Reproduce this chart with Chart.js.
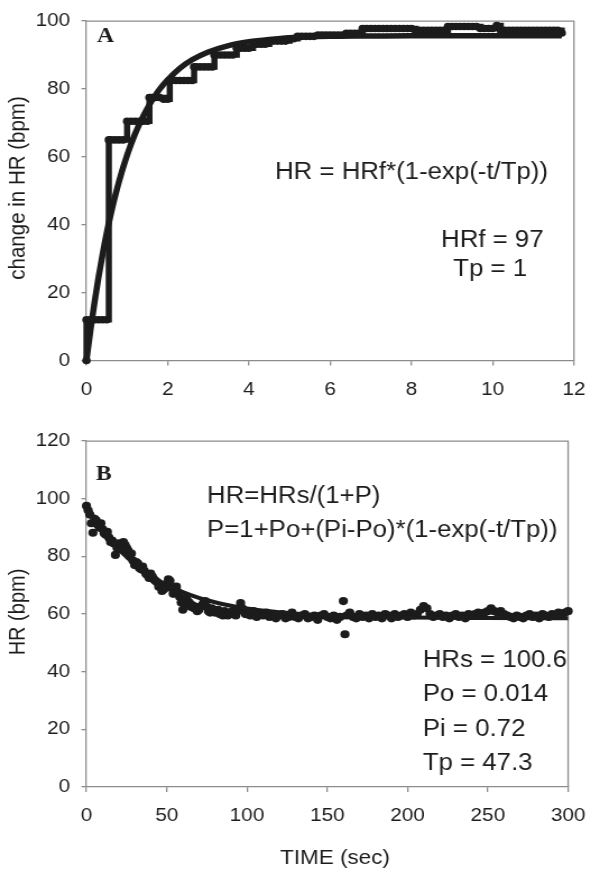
<!DOCTYPE html>
<html><head><meta charset="utf-8">
<script src="https://cdn.jsdelivr.net/npm/chart.js@4.4.1/dist/chart.umd.min.js"></script>
<style>
html,body{margin:0;padding:0;background:#fff;width:600px;height:878px;overflow:hidden}
canvas{position:absolute;left:0;display:block}
</style></head><body>
<canvas id="ca" width="535" height="420" style="top:0;width:600px;height:420px"></canvas>
<canvas id="cb" width="535" height="458" style="top:420px;width:600px;height:458px"></canvas>
<script>
// ---------- Panel A data ----------
const A_TIME = [
  0, 0, 0.1, 0.2, 0.3, 0.4, 0.5, 0.55, 0.6, 0.7,
  0.8, 0.9, 1.0, 1.1, 1.2, 1.3, 1.4, 1.5, 1.55, 1.6,
  1.7, 1.8, 1.9, 2.0, 2.05, 2.1, 2.2, 2.3, 2.4, 2.5,
  2.6, 2.65, 2.7, 2.8, 2.9, 3.0, 3.1, 3.15, 3.2, 3.3,
  3.4, 3.5, 3.6, 3.7, 3.8, 3.9, 4.0, 4.1, 4.2, 4.3,
  4.4, 4.5, 4.6, 4.7, 4.8, 4.9, 5.0, 5.1, 5.2, 5.3,
  5.4, 5.5, 5.6, 5.7, 5.8, 5.9, 6.0, 6.1, 6.2, 6.3,
  6.4, 6.5, 6.6, 6.7, 6.8, 6.9, 7.0, 7.1, 7.2, 7.3,
  7.4, 7.5, 7.6, 7.7, 7.8, 7.9, 8.0, 8.1, 8.2, 8.3,
  8.4, 8.5, 8.6, 8.7, 8.8, 8.9, 9.0, 9.1, 9.2, 9.3,
  9.4, 9.5, 9.6, 9.7, 9.8, 9.9, 10.0, 10.1, 10.2, 10.3,
  10.4, 10.5, 10.6, 10.7, 10.8, 10.9, 11.0, 11.1, 11.2, 11.3,
  11.4, 11.5, 11.6, 11.7
];
const A_HR = [
  0, 12, 12, 12, 12, 12, 12, 65, 65, 65,
  65, 65, 70.5, 70.5, 70.5, 70.5, 70.5, 70.5, 77.5, 77.5,
  77.5, 77.5, 77, 77, 82.5, 82.5, 82.5, 82.5, 82.5, 82.5,
  82.5, 86.5, 86.5, 86.5, 86.5, 86.5, 86.5, 90, 90, 90,
  90, 90, 90, 92, 92, 92, 92, 93.2, 93.2, 93.2,
  93.2, 94.1, 94.1, 94.1, 94.1, 94.1, 94.8, 94.8, 95.5, 95.5,
  95.5, 95.5, 95.5, 95.9, 95.9, 95.9, 95.9, 95.9, 95.9, 95.9,
  96.4, 96.4, 96.4, 96.4, 97.8, 97.8, 97.8, 97.8, 97.8, 97.8,
  97.8, 97.8, 97.8, 97.8, 97.8, 97.8, 97.8, 97.3, 97.3, 97.3,
  97.3, 97.3, 97.3, 97.3, 97.3, 98.4, 98.4, 98.4, 98.4, 98.4,
  98.4, 98.4, 98.4, 97.8, 97.8, 97.8, 97.8, 98.7, 97.3, 97.3,
  97.3, 97.3, 97.3, 97.3, 97.3, 97.3, 97.3, 97.3, 97.3, 97.3,
  97.3, 97.3, 97.3, 96.5
];
const A_FIT_TIME = [0, 0.1, 0.2, 0.3, 0.4, 0.5, 0.6, 0.8, 1.0, 1.2, 1.4, 1.6, 1.8, 2.0, 2.3, 2.6, 3.0, 3.5, 4.0, 4.5, 5.0, 6.0, 7.0, 8.0, 10.0, 11.7];
const A_FIT_HR   = [0, 9.1, 17.3, 24.8, 31.5, 37.7, 43.2, 52.7, 60.5, 66.9, 72.1, 76.4, 79.9, 82.7, 86.1, 88.6, 90.9, 92.8, 93.9, 94.6, 95.1, 95.5, 95.6, 95.7, 95.7, 95.7];
const A_X_TICKS = [0, 2, 4, 6, 8, 10, 12];
const A_Y_TICKS = [0, 20, 40, 60, 80, 100];

// ---------- Panel B data ----------
const B_TIME = [
  0, 1, 2, 3, 4, 5, 6, 7, 8, 9,
  10, 11, 12, 13, 14, 15, 16, 17, 18, 19,
  20, 21, 22, 23, 24, 25, 26, 27, 28, 29,
  30, 31, 32, 33, 34, 35, 36, 37, 38, 39,
  40, 41, 42, 43, 44, 45, 46, 47, 48, 49,
  50, 51, 52, 53, 54, 55, 56, 57, 58, 59,
  60, 61, 62, 63, 64, 65, 66, 67, 68, 69,
  70, 71, 72, 73, 74, 75, 76, 77, 78, 79,
  80, 81, 82, 83, 84, 85, 86, 87, 88, 89,
  90, 91, 92, 93, 94, 95, 96, 97, 98, 99,
  100, 102, 104, 106, 108, 110, 112, 114, 116, 118,
  120, 122, 124, 126, 128, 130, 132, 134, 136, 138,
  140, 142, 144, 146, 148, 150, 152, 154, 156, 158,
  160, 161, 162, 164, 166, 168, 170, 172, 174, 176, 178,
  180, 182, 184, 186, 188, 190, 192, 194, 196, 198,
  200, 202, 204, 206, 208, 210, 212, 214, 216, 218,
  220, 222, 224, 226, 228, 230, 232, 234, 236, 238,
  240, 242, 244, 246, 248, 250, 252, 254, 256, 258,
  260, 262, 264, 266, 268, 270, 272, 274, 276, 278,
  280, 282, 284, 286, 288, 290, 292, 294, 296, 298,
  300
];
const B_HR = [
  97.5, 96, 94.5, 91.5, 88.2, 93, 92.5, 91, 90, 91.5,
  89.5, 88, 87.5, 88.5, 86.5, 85, 85.5, 84.5, 80.5, 83,
  84.5, 82.5, 83.5, 85, 84, 83, 82, 80, 81, 78.5,
  77, 78, 77.5, 76, 75.5, 76.5, 75, 74, 73.5, 72.5,
  74, 73, 72, 71.5, 71, 69.5, 70, 68, 68.5, 69,
  70.5, 72, 71.5, 69, 67, 68, 69.5, 67.5, 66, 64,
  61.5, 63.5, 65.5, 64.5, 64, 62.5, 63, 62, 62.5, 61,
  61.5, 62.5, 63, 64, 64.5, 62.5, 61, 60.5, 62, 61.5,
  60.5, 61, 61.5, 60, 60, 59.5, 61, 60.5, 59.5, 60,
  60.5, 61, 60, 59.5, 61, 62, 63.8, 62, 61, 60,
  60, 59.5, 61, 59, 60, 59.5, 60.5, 59, 60, 58.5,
  59.5, 60, 58.5, 59, 60.5, 59, 58.5, 59.5, 60, 58.5,
  59, 59.5, 58, 59.5, 60, 59, 58.5, 59.5, 58, 59,
  64.5, 53, 59.5, 60.5, 59, 58.5, 60, 59, 59.5, 58.5, 60,
  59, 59.5, 58.5, 60, 59.5, 58.5, 60, 59, 59.5, 60,
  59, 60.5, 59.5, 60, 61.5, 62.8, 62, 60, 59, 59.5,
  60, 59, 59.5, 58.5, 59.5, 60, 59, 59.5, 58.5, 60,
  59.5, 60, 60.5, 59.5, 60.5, 61, 62, 61, 60.5, 61,
  60, 59.5, 59, 58.5, 59.5, 59, 58.5, 59.5, 60, 59,
  59.5, 58.5, 60, 59.5, 59, 60, 59.5, 60.5, 59.5, 60.5,
  61
];
const B_FIT_TIME = [0, 5, 10, 15, 20, 25, 30, 40, 50, 60, 70, 80, 90, 100, 120, 140, 160, 180, 200, 250, 300];
const B_FIT_HR   = [97.8, 93.3, 89.3, 85.8, 82.6, 79.8, 77.4, 73.3, 70.1, 67.6, 65.6, 64.1, 62.9, 61.9, 60.6, 59.8, 59.3, 59.0, 58.8, 58.6, 58.5];
const B_X_TICKS = [0, 50, 100, 150, 200, 250, 300];
const B_Y_TICKS = [0, 20, 40, 60, 80, 100, 120];

// ---------- styling ----------
const INK = '#1c1c1c';
const AXIS = '#8c8c8c';
const SANS = "'Liberation Sans', Arial, sans-serif";
const SERIF = "'Liberation Serif', 'Times New Roman', serif";

function pts(xs, ys) { return xs.map((x, i) => ({ x: x, y: ys[i] })); }

function axisScale(ticks, fixedSize, isX) {
  return {
    type: 'linear',
    min: ticks[0],
    max: ticks[ticks.length - 1],
    afterBuildTicks: s => { s.ticks = ticks.map(v => ({ value: v })); },
    afterFit: s => { if (isX) s.height = fixedSize; else s.width = fixedSize; },
    grid: { drawOnChartArea: false, drawTicks: true, tickLength: isX ? 5 : 4.5, color: AXIS, lineWidth: 1.3 },
    border: { display: true, color: AXIS, width: 1.3 },
    ticks: { color: INK, font: { family: SANS, size: 18.5 }, padding: isX ? 13 : 10, maxRotation: 0, autoSkip: false },
    title: { display: false }
  };
}

function decorPlugin(texts) {
  return {
    id: 'decor',
    beforeDatasetsDraw(chart) {
      const { ctx, chartArea: a } = chart;
      ctx.save();
      ctx.strokeStyle = AXIS; ctx.lineWidth = 1.3;
      ctx.beginPath();
      ctx.moveTo(a.left, a.top); ctx.lineTo(a.right, a.top); ctx.lineTo(a.right, a.bottom);
      ctx.stroke();
      ctx.restore();
    },
    afterDraw(chart) {
      const ctx = chart.ctx;
      texts.forEach(t => {
        ctx.save();
        ctx.fillStyle = INK;
        ctx.font = t.font;
        ctx.textAlign = t.align || 'left';
        ctx.textBaseline = 'middle';
        if (t.rot) {
          ctx.translate(t.x, t.y);
          ctx.rotate(-Math.PI / 2);
          ctx.fillText(t.text, 0, 0);
        } else {
          ctx.fillText(t.text, t.x, t.y);
        }
        ctx.restore();
      });
    }
  };
}

const commonOpts = (xTicks, yTicks, pad, xH) => ({
  responsive: false,
  devicePixelRatio: 1,
  animation: false,
  events: [],
  layout: { padding: pad },
  plugins: { legend: { display: false }, tooltip: { enabled: false } },
  scales: {
    x: axisScale(xTicks, xH, true),
    y: axisScale(yTicks, 77.1 - pad.left, false)
  }
});

// ---------- Chart A ----------
new Chart(document.getElementById('ca'), {
  type: 'scatter',
  data: {
    datasets: [
      {
        data: pts(A_TIME, A_HR),
        showLine: true, stepped: true,
        borderColor: INK, borderWidth: 5.5,
        pointRadius: 3.8, pointBorderWidth: 0, pointBackgroundColor: INK,
        clip: false
      },
      {
        data: pts(A_FIT_TIME, A_FIT_HR),
        showLine: true, cubicInterpolationMode: 'monotone',
        borderColor: INK, borderWidth: 5.5,
        pointRadius: 0, clip: false
      }
    ]
  },
  options: commonOpts(A_X_TICKS, A_Y_TICKS, { left: 0, right: 20.5, top: 15.3, bottom: 0 }, 420 - 360.5),
  plugins: [decorPlugin([
    { text: 'change in HR (bpm)', x: 16, y: 188, rot: true, align: 'center', font: '20.5px ' + SANS },
    { text: 'A', x: 86.5, y: 37, font: 'bold 21px ' + SERIF },
    { text: 'HR = HRf*(1-exp(-t/Tp))', x: 245.2, y: 173, font: '23px ' + SANS },
    { text: 'HRf = 97', x: 439, y: 241, align: 'center', font: '23px ' + SANS },
    { text: 'Tp = 1', x: 437, y: 270, align: 'center', font: '23px ' + SANS }
  ])]
});

// ---------- Chart B ----------
new Chart(document.getElementById('cb'), {
  type: 'scatter',
  data: {
    datasets: [
      {
        data: pts(B_FIT_TIME, B_FIT_HR),
        showLine: true, cubicInterpolationMode: 'monotone',
        borderColor: INK, borderWidth: 4,
        pointRadius: 0, clip: false
      },
      {
        data: pts(B_TIME, B_HR),
        showLine: false,
        pointRadius: 4.1, pointBorderWidth: 0, pointBackgroundColor: INK,
        clip: false
      }
    ]
  },
  options: commonOpts(B_X_TICKS, B_Y_TICKS, { left: 0, right: 20.5, top: 17, bottom: 0 }, 458 - 367),
  plugins: [decorPlugin([
    { text: 'HR (bpm)', x: 16, y: 192, rot: true, align: 'center', font: '20px ' + SANS },
    { text: 'B', x: 85.6, y: 55, font: 'bold 21px ' + SERIF },
    { text: 'HR=HRs/(1+P)', x: 184.6, y: 77, font: '23px ' + SANS },
    { text: 'P=1+Po+(Pi-Po)*(1-exp(-t/Tp))', x: 184.6, y: 111, font: '23px ' + SANS },
    { text: 'HRs = 100.6', x: 377, y: 241, font: '23px ' + SANS },
    { text: 'Po = 0.014', x: 377, y: 275, font: '23px ' + SANS },
    { text: 'Pi = 0.72', x: 377, y: 310, font: '23px ' + SANS },
    { text: 'Tp = 47.3', x: 377, y: 344, font: '23px ' + SANS },
    { text: 'TIME (sec)', x: 298.7, y: 438, align: 'center', font: '20px ' + SANS }
  ])]
});
</script>
</body></html>
